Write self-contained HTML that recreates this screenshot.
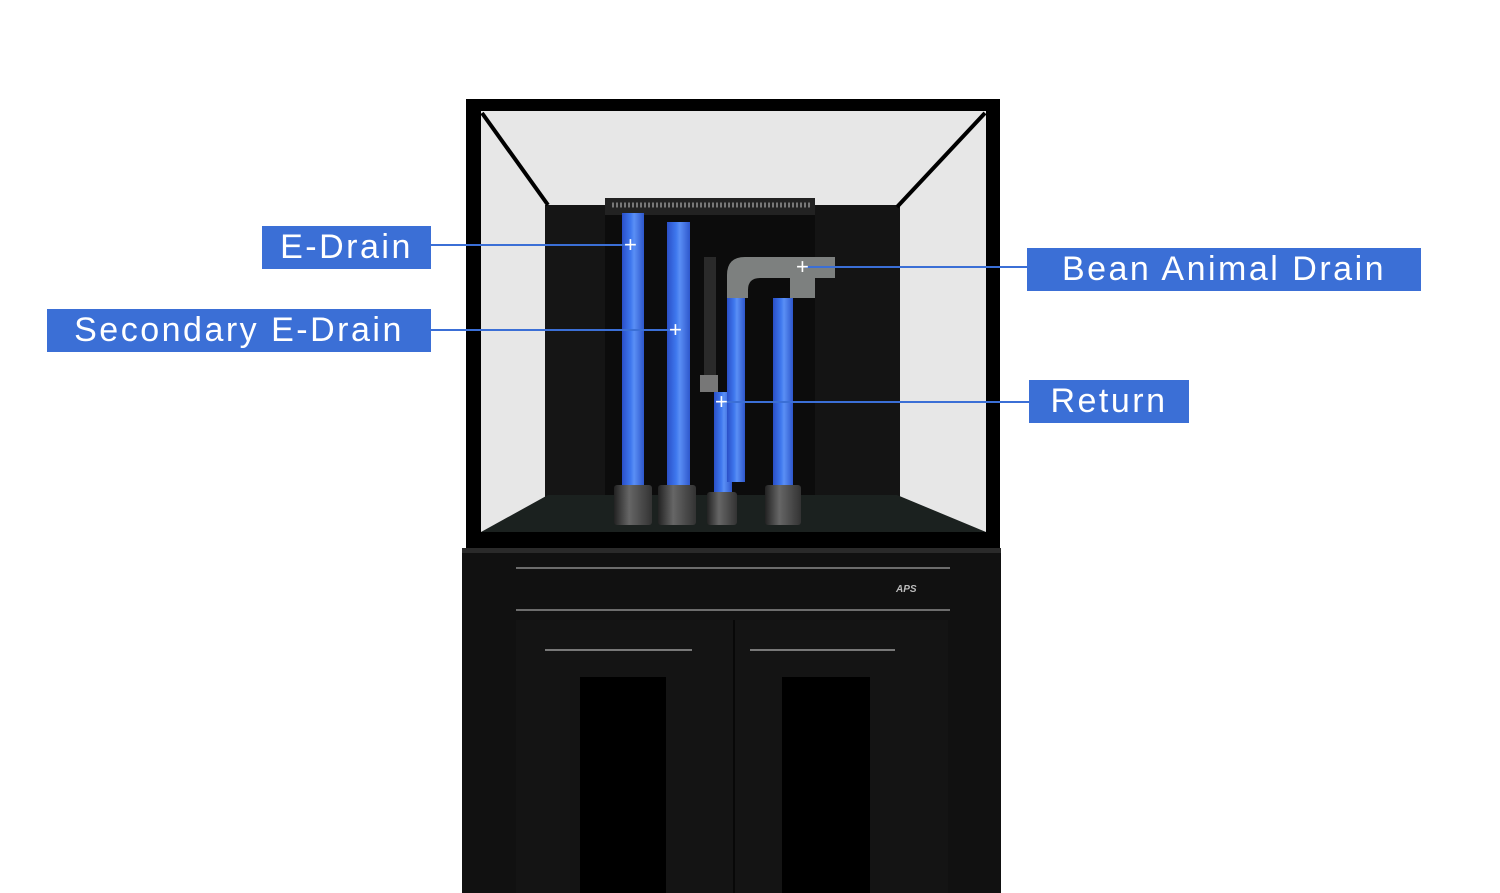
<!DOCTYPE html>
<html><head><style>
html,body{margin:0;padding:0;background:#fff;}
#c{position:relative;width:1500px;height:893px;overflow:hidden;background:#fff;font-family:"Liberation Sans",sans-serif;}
.a{position:absolute;}
.lbl{position:absolute;background:#3b6fd6;color:#fff;font-size:34px;letter-spacing:2.5px;line-height:43px;height:43px;text-align:center;box-sizing:border-box;}
.ln{position:absolute;height:2px;background:#3b6fd6;}
.pipe{position:absolute;background:linear-gradient(90deg,#2a4fc8,#3f78ee 40%,#5a8ff5 55%,#2e57cc);}
.nut{position:absolute;background:linear-gradient(90deg,#222,#666 40%,#333);border-radius:3px;}
</style></head><body><div id="c">
<svg class="a" style="left:0;top:0" width="1500" height="893">
 <rect x="466" y="99" width="534" height="449" fill="#000"/>
 <rect x="481" y="111" width="505" height="421" fill="#e7e7e7"/>
 <polygon points="548,205 897,205 897,497 548,497" fill="#0c0c0c"/>
 <polygon points="545,205 605,205 605,500 545,500" fill="#151515"/>
 <polygon points="815,205 900,205 900,500 815,500" fill="#141414"/>
 <polygon points="605,198 815,198 815,215 605,215" fill="#222"/>
 <line x1="612" y1="205" x2="810" y2="205" stroke="#777" stroke-width="5" stroke-dasharray="2 2"/>
 <line x1="482" y1="113" x2="548" y2="205" stroke="#000" stroke-width="4"/>
 <line x1="985" y1="113" x2="897" y2="207" stroke="#000" stroke-width="4"/>
 <polygon points="548,495 897,495 986,532 481,532" fill="#1b211f"/>
 <rect x="462" y="548" width="539" height="345" fill="#111"/>
 <rect x="462" y="548" width="539" height="5" fill="#2a2a2a"/>
 <line x1="516" y1="568" x2="950" y2="568" stroke="#8a8a8a" stroke-width="1.5"/>
 <line x1="516" y1="610" x2="950" y2="610" stroke="#8a8a8a" stroke-width="1.5"/>
 <rect x="516" y="620" width="432" height="273" fill="#141414"/>
 <line x1="734" y1="620" x2="734" y2="893" stroke="#080808" stroke-width="2"/>
 <rect x="580" y="677" width="86" height="216" fill="#000"/>
 <rect x="782" y="677" width="88" height="216" fill="#000"/>
 <line x1="545" y1="650" x2="692" y2="650" stroke="#999" stroke-width="1.5"/>
 <line x1="750" y1="650" x2="895" y2="650" stroke="#999" stroke-width="1.5"/>
 <text x="896" y="592" fill="#bbb" font-size="10" font-style="italic" font-weight="bold">APS</text>
 <rect x="704" y="257" width="12" height="120" fill="#2a2a2a"/>
 <rect x="700" y="375" width="18" height="17" fill="#777"/>
 <path d="M727 298 L727 275 Q727 257 745 257 L835 257 L835 278 L815 278 L815 298 L790 298 L790 278 L760 278 Q748 278 748 290 L748 298 Z" fill="#7d807f"/>
</svg>
<div class="pipe" style="left:622px;top:213px;width:22px;height:280px"></div>
<div class="pipe" style="left:667px;top:222px;width:23px;height:271px"></div>
<div class="pipe" style="left:714px;top:392px;width:18px;height:105px"></div>
<div class="pipe" style="left:727px;top:298px;width:18px;height:184px"></div>
<div class="pipe" style="left:773px;top:298px;width:20px;height:193px"></div>
<div class="nut" style="left:614px;top:485px;width:38px;height:40px"></div>
<div class="nut" style="left:658px;top:485px;width:38px;height:40px"></div>
<div class="nut" style="left:707px;top:492px;width:30px;height:33px"></div>
<div class="nut" style="left:765px;top:485px;width:36px;height:40px"></div>
<div class="lbl" style="left:262px;top:226px;width:169px">E-Drain</div>
<div class="lbl" style="left:47px;top:309px;width:384px">Secondary E-Drain</div>
<div class="lbl" style="left:1027px;top:248px;width:394px">Bean Animal Drain</div>
<div class="lbl" style="left:1029px;top:380px;width:160px">Return</div>
<div class="ln" style="left:431px;top:244px;width:202px"></div>
<div class="ln" style="left:431px;top:329px;width:247px"></div>
<div class="ln" style="left:805px;top:266px;width:222px"></div>
<div class="ln" style="left:724px;top:401px;width:305px"></div>
<div class="a" style="left:624px;top:232px;color:#fff;font-size:22px;line-height:26px">+</div>
<div class="a" style="left:669px;top:317px;color:#fff;font-size:22px;line-height:26px">+</div>
<div class="a" style="left:796px;top:254px;color:#fff;font-size:22px;line-height:26px">+</div>
<div class="a" style="left:715px;top:389px;color:#fff;font-size:22px;line-height:26px">+</div>
</div></body></html>
